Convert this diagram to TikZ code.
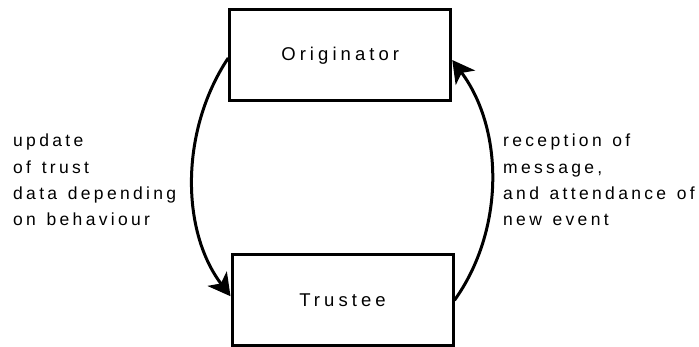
\documentclass[tikz,border=0pt]{standalone}
\usepackage{fontspec}
\setmainfont{Liberation Sans}
\newfontfamily\boxfont[LetterSpace=22,WordSpace=1.3]{Liberation Sans}
\newfontfamily\notefont[LetterSpace=19,WordSpace=1.3]{Liberation Sans}
\usetikzlibrary{arrows.meta,calc}

\tikzset{
  party/.style={draw, line width=3pt, minimum width=221pt, minimum height=91pt,
    inner sep=0pt, font=\boxfont\fontsize{18.5}{22}\selectfont},
  flow/.style={line width=3pt, -{Stealth[length=22pt,width=24pt,inset=6pt]}},
  note/.style={anchor=north west, inner sep=0pt, align=left,
    font=\notefont\fontsize{17.5}{26.3}\selectfont}
}

\begin{document}
\begin{tikzpicture}[x=1pt,y=-1pt]
  \useasboundingbox (0,0) rectangle (699,347);

  \node[party] (orig)  at (340.25,55.5)  {Originator};
  \node[party, minimum height=90.5pt] (trust) at (342.5,300.25) {Trustee};

  % trust update: originator -> trustee, bulging left
  \draw[flow] ([yshift=-2.5pt]orig.west) .. controls +(-48,72) and +(-50,-66) .. ([yshift=4pt]trust.west);
  % reception / event: trustee -> originator, bulging right
  \draw[flow] (trust.east) .. controls +(50,-70) and +(52,70) .. ([yshift=-4.5pt]orig.east);

  \node[note] (left)  at (13,134)  {update\\of trust\\data depending\\on behaviour};
  \node[note] (right) at (503,134) {reception of\\message,\\and attendance of\\new event};
\end{tikzpicture}
\end{document}
